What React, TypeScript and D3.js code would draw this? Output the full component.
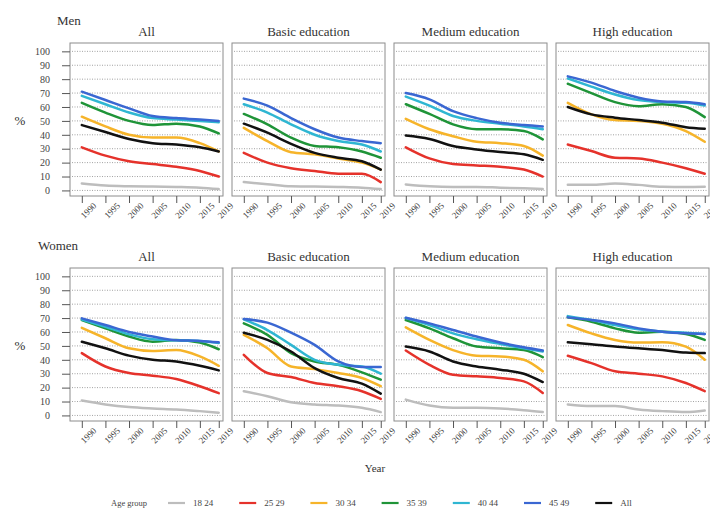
import { useEffect, useRef } from "react";
import * as d3 from "d3";

const years = [1990, 1995, 2000, 2005, 2010, 2015, 2019];
const yTicks = [0, 10, 20, 30, 40, 50, 60, 70, 80, 90, 100];
const ageGroups = ["18 24", "25 29", "30 34", "35 39", "40 44", "45 49", "All"];
const colors = ["#bdbdbd", "#e5322b", "#f6b42a", "#1f9438", "#2fb6d2", "#3a67d2", "#111111"];
const panelTitles = ["All", "Basic education", "Medium education", "High education"];
const rowTitles = ["Men", "Women"];

// each panel: one row per age group (same order as ageGroups), one value per year
const menAll = [
  [5, 3.5, 3, 2.8, 2.5, 2, 1],
  [31, 25, 21, 19, 17, 14, 10],
  [53, 46, 40, 38, 38, 34, 28],
  [63, 56, 50, 47, 48, 46, 41],
  [68, 62, 56, 52, 51, 50, 49],
  [71, 65, 59, 53.5, 52, 51, 50],
  [47, 42, 37, 34, 33, 31, 28],
];
const menBasic = [
  [6, 4.5, 3, 2.8, 2.5, 2, 1],
  [27, 20, 16, 14, 12, 12, 6],
  [45, 35.5, 27.5, 26, 23, 20, 15],
  [55, 47.5, 38, 32, 31, 28, 23.5],
  [62, 56, 47.5, 40, 35.5, 33, 28],
  [66, 61, 52, 44, 38, 35.5, 34],
  [48, 41.5, 33.5, 27, 23.5, 21, 15],
];
const menMedium = [
  [4.3, 3, 2.5, 2.5, 2, 1.5, 1],
  [31, 23, 19, 18, 17, 15, 10],
  [51.5, 44, 39, 35, 34, 32, 25],
  [62, 55, 47.5, 44, 44, 42.7, 36.7],
  [67.5, 61, 53.5, 50, 48, 46, 44],
  [70, 65.5, 57, 52, 48.7, 47, 46],
  [39.5, 37, 32, 29.5, 27.6, 26, 22],
];
const menHigh = [
  [4, 4, 5, 4, 2.7, 2.5, 2.7],
  [33, 28.3, 23.5, 23, 20, 16, 12],
  [63, 54.7, 50.6, 50, 48, 42.7, 35],
  [76.7, 70, 63.5, 60.6, 62, 60, 52.7],
  [80.5, 74.6, 69, 65, 63.5, 63, 61],
  [82, 77.5, 71.5, 66.7, 64, 63.5, 62],
  [60, 54.7, 52.3, 50.6, 48.7, 45.5, 44.4],
];
const womenAll = [
  [10.7, 7.9, 6, 5, 4.3, 3.1, 2],
  [44.8, 35.2, 30.5, 28.6, 26.2, 21, 16],
  [63, 55.5, 48.3, 46.4, 47, 42.4, 35.7],
  [68.6, 62.6, 56.7, 53, 54.3, 52.4, 47.6],
  [69, 63.8, 58.3, 54.8, 54, 53.5, 52],
  [69.8, 65, 60, 56.7, 54, 53.6, 52.6],
  [53, 48.3, 43, 40, 38.8, 35.7, 32.4],
];
const womenBasic = [
  [17.4, 13.8, 9.5, 7.9, 7.1, 5.5, 2.4],
  [43.6, 30.5, 27.6, 23.3, 21, 17.4, 11.9],
  [57.9, 48.3, 35.2, 33.3, 30.5, 26.9, 21],
  [66.2, 57.9, 44.8, 38.8, 36.4, 31, 25.7],
  [69, 61.4, 50.7, 40, 36.4, 35.2, 30],
  [69.3, 66.7, 59.5, 50.7, 38.8, 34.8, 34.8],
  [59.5, 54.3, 46, 34, 26.9, 22.9, 15.7],
];
const womenMedium = [
  [11.4, 7.1, 5.5, 5.5, 5, 3.8, 2.4],
  [46.7, 36.4, 29.3, 28.1, 26.9, 24.5, 16.2],
  [63.3, 54.3, 47, 42.9, 42.4, 40, 31.7],
  [68.6, 62.6, 55.5, 49.5, 48.3, 47, 41.9],
  [70, 65, 59, 54.8, 51.4, 48.3, 46],
  [70.2, 66.2, 61.4, 56.7, 52.4, 49, 46.7],
  [49.5, 46, 38.8, 35.2, 32.9, 30, 24],
];
const womenHigh = [
  [7.9, 6.7, 6.7, 4.3, 3.1, 2.4, 3.5],
  [42.9, 37.6, 31.7, 30, 28.1, 23.3, 17.4],
  [65, 59, 54.3, 52.4, 52.6, 49.5, 40],
  [70.5, 67.4, 62.6, 59.5, 60.2, 58.6, 54.3],
  [71.4, 68.6, 65, 61.9, 60.2, 59.5, 58.6],
  [70.5, 68.6, 66.2, 62.6, 60.2, 59, 58.6],
  [52.6, 51.2, 49.5, 48.3, 47, 45.2, 44.8],
];

const panels = [
  [menAll, menBasic, menMedium, menHigh],
  [womenAll, womenBasic, womenMedium, womenHigh],
];

const font = "'Liberation Serif', 'DejaVu Serif', serif";

const App = () => {
  const svgRef = useRef(null);

  useEffect(() => {
    const W = 710;
    const H = 508;
    const svg = d3.select(svgRef.current).attr("width", W).attr("height", H);
    svg.selectAll("*").remove();

    const panelW = 153;
    const panelH = 153;
    const lefts = [70, 232, 394, 556];
    const tops = [43, 268];

    const x = d3.scaleLinear().domain([1987.5, 2019.9]).range([0, panelW]);
    const y = d3.scaleLinear().domain([-4, 106]).range([panelH, 0]);

    const line = d3
      .line<number>()
      .x((d, i) => x(years[i]))
      .y((d) => y(d))
      .curve(d3.curveMonotoneX);

    rowTitles.forEach((rt, r) => {
      svg
        .append("text")
        .attr("x", r === 0 ? 57 : 38)
        .attr("y", r === 0 ? 25 : 250)
        .attr("font-family", font)
        .attr("font-size", 13)
        .attr("fill", "#333")
        .text(rt);

      svg
        .append("text")
        .attr("x", 20)
        .attr("y", tops[r] + y(50) + 4)
        .attr("text-anchor", "middle")
        .attr("font-family", font)
        .attr("font-size", 13)
        .attr("fill", "#333")
        .text("%");

      panels[r].forEach((series, c) => {
        const g = svg
          .append("g")
          .attr("transform", `translate(${lefts[c]},${tops[r]})`);

        g.append("text")
          .attr("x", panelW / 2)
          .attr("y", -7)
          .attr("text-anchor", "middle")
          .attr("font-family", font)
          .attr("font-size", 13)
          .attr("fill", "#333")
          .text(panelTitles[c]);

        g.selectAll(".grid")
          .data(yTicks)
          .join("line")
          .attr("x1", 2)
          .attr("x2", panelW - 2)
          .attr("y1", (d) => y(d))
          .attr("y2", (d) => y(d))
          .attr("stroke", "#8a8a8a")
          .attr("stroke-width", 0.8)
          .attr("stroke-dasharray", "1,1.5");

        g.selectAll(".series")
          .data(series)
          .join("path")
          .attr("d", (d) => line(d))
          .attr("fill", "none")
          .attr("stroke", (d, i) => colors[i])
          .attr("stroke-width", 2.5)
          .attr("stroke-linejoin", "round")
          .attr("stroke-linecap", "round");

        g.append("rect")
          .attr("x", 0)
          .attr("y", 0)
          .attr("width", panelW)
          .attr("height", panelH)
          .attr("fill", "none")
          .attr("stroke", "#8c8c8c")
          .attr("stroke-width", 1);

        const xAxis = d3
          .axisBottom(x)
          .tickValues(years)
          .tickSize(7)
          .tickFormat(d3.format("d"));
        const xa = g
          .append("g")
          .attr("transform", `translate(0,${panelH})`)
          .call(xAxis);
        xa.select(".domain").remove();
        xa.selectAll("line").attr("stroke", "#555");
        xa.selectAll("text")
          .attr("font-family", font)
          .attr("font-size", 9)
          .attr("fill", "#444")
          .style("text-anchor", "end")
          .attr("dx", "0.35em")
          .attr("dy", "0.85em")
          .attr("transform", "rotate(-45)");

        if (c === 0) {
          const yAxis = d3.axisLeft(y).tickValues(yTicks).tickSize(8).tickPadding(12);
          const ya = g.append("g").call(yAxis);
          ya.select(".domain").remove();
          ya.selectAll("line").attr("stroke", "#555");
          ya.selectAll("text")
            .attr("font-family", font)
            .attr("font-size", 10)
            .attr("fill", "#444");
        }
      });
    });

    svg
      .append("text")
      .attr("x", 375)
      .attr("y", 472)
      .attr("text-anchor", "middle")
      .attr("font-family", font)
      .attr("font-size", 11)
      .attr("fill", "#333")
      .text("Year");

    const legendY = 503;
    svg
      .append("text")
      .attr("x", 111)
      .attr("y", legendY + 3)
      .attr("font-family", font)
      .attr("font-size", 8.5)
      .attr("fill", "#444")
      .text("Age group");

    const lg = svg
      .selectAll(".legend")
      .data(ageGroups)
      .join("g")
      .attr("transform", (d, i) => `translate(${168 + i * 71.2},${legendY})`);
    lg.append("line")
      .attr("x1", 0)
      .attr("x2", 17)
      .attr("stroke", (d, i) => colors[i])
      .attr("stroke-width", 2.2);
    lg.append("text")
      .attr("x", 25)
      .attr("y", 3)
      .attr("font-family", font)
      .attr("font-size", 9)
      .attr("fill", "#444")
      .text((d) => d);

    return () => {
      svg.selectAll("*").remove();
    };
  }, []);

  return (
    <div style={{ position: "absolute", left: 0, top: 0 }}>
      <svg ref={svgRef} style={{ display: "block", background: "#fff" }} />
    </div>
  );
};

export default App;
